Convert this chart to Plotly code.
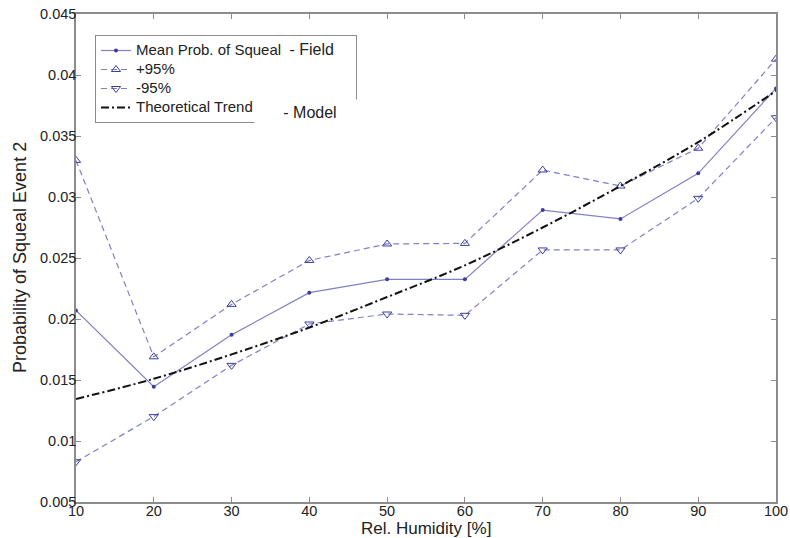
import plotly.graph_objects as go

humidity = [10, 20, 30, 40, 50, 60, 70, 80, 90, 100]
mean_prob = [0.0207, 0.01445, 0.0187, 0.02216, 0.02325, 0.02325, 0.02893, 0.0282, 0.03194, 0.0389]
upper95 = [0.0330, 0.0169, 0.0212, 0.0248, 0.02615, 0.0262, 0.03221, 0.0309, 0.0340, 0.0413]
lower95 = [0.0083, 0.0120, 0.0162, 0.01959, 0.02041, 0.0203, 0.02566, 0.02566, 0.02989, 0.0365]
trend = [0.01344, 0.0151, 0.0171, 0.0193, 0.0218, 0.0244, 0.0275, 0.0309, 0.0345, 0.0387]

y_ticks = [0.005, 0.01, 0.015, 0.02, 0.025, 0.03, 0.035, 0.04, 0.045]
y_ticktext = ["0.005", "0.01", "0.015", "0.02", "0.025", "0.03", "0.035", "0.04", "0.045"]
x_ticks = [10, 20, 30, 40, 50, 60, 70, 80, 90, 100]

line_col = "#8080c4"
mark_col = "#3c3ca0"
txt_col = "#222222"
font_fam = "Liberation Sans, Arial, sans-serif"

# plot area in pixels (left, right, top, bottom)
L, R, T, B = 76, 776, 14, 502
W, H = 790, 538


def px_x(p):
    return (p - L) / (R - L)


def px_y(p):
    return 1 - (p - T) / (B - T)


def big(s, size=15):
    return "<span style='font-size:%spx'>%s</span>" % (size, s)


fig = go.Figure()
fig.add_trace(go.Scatter(
    x=humidity, y=mean_prob, mode="lines+markers",
    name=big("Mean Prob. of Squeal  ") + big("- Field", 16) + big("    "),
    line=dict(color=line_col, width=1.2),
    marker=dict(symbol="circle", size=4, color=mark_col)))
fig.add_trace(go.Scatter(
    x=humidity, y=upper95, mode="lines+markers", name=big("+95%"),
    line=dict(color=line_col, width=1.2, dash="6px,4px"),
    marker=dict(symbol="triangle-up-open", size=8, color=mark_col, line=dict(width=1))))
fig.add_trace(go.Scatter(
    x=humidity, y=lower95, mode="lines+markers", name=big("-95%"),
    line=dict(color=line_col, width=1.2, dash="6px,4px"),
    marker=dict(symbol="triangle-down-open", size=8, color=mark_col, line=dict(width=1))))
fig.add_trace(go.Scatter(
    x=humidity, y=trend, mode="lines", name=big("Theoretical Trend"),
    line=dict(color="#111111", width=2, dash="8px,3px,2px,3px", shape="spline")))

axis_common = dict(
    showline=True, linecolor="#8c8c8c", linewidth=1.5, mirror="ticks",
    ticks="inside", ticklen=5, tickcolor="#8c8c8c", tickwidth=1,
    showgrid=False, zeroline=False, automargin=False,
    tickfont=dict(family=font_fam, size=14.5, color=txt_col),
)

fig.update_layout(
    width=W, height=H,
    margin=dict(l=L, r=W - R, t=T, b=H - B),
    paper_bgcolor="white", plot_bgcolor="white",
    font=dict(family=font_fam, color=txt_col),
    xaxis=dict(range=[10, 100], tickvals=x_ticks, ticklabelstandoff=-5, **axis_common),
    yaxis=dict(range=[0.005, 0.045], tickvals=y_ticks, ticktext=y_ticktext,
               ticklabelstandoff=-5, **axis_common),
    legend=dict(x=px_x(95), y=px_y(35), xanchor="left", yanchor="top",
                bgcolor="white", bordercolor="#8c8c8c", borderwidth=1,
                font=dict(family=font_fam, size=12, color=txt_col),
                tracegroupgap=0, itemwidth=30),
    showlegend=True,
    annotations=[
        dict(xref="paper", yref="paper", x=px_x(254), y=px_y(99),
             xanchor="left", yanchor="top", text="- Model", showarrow=False,
             bgcolor="white", width=110, height=24, borderpad=0, align="center",
             font=dict(family=font_fam, size=16, color=txt_col)),
        dict(xref="paper", yref="paper", x=px_x((L + R) / 2), y=px_y(528),
             xanchor="center", yanchor="middle", text="Rel. Humidity [%]", showarrow=False,
             font=dict(family=font_fam, size=17, color=txt_col)),
        dict(xref="paper", yref="paper", x=px_x(20), y=px_y((T + B) / 2),
             xanchor="center", yanchor="middle", text="Probability of Squeal Event 2",
             textangle=-90, showarrow=False,
             font=dict(family=font_fam, size=18, color=txt_col)),
    ],
)

fig.write_html("out.html", config={"displayModeBar": False},
               post_script="document.body.style.margin='0px';")
